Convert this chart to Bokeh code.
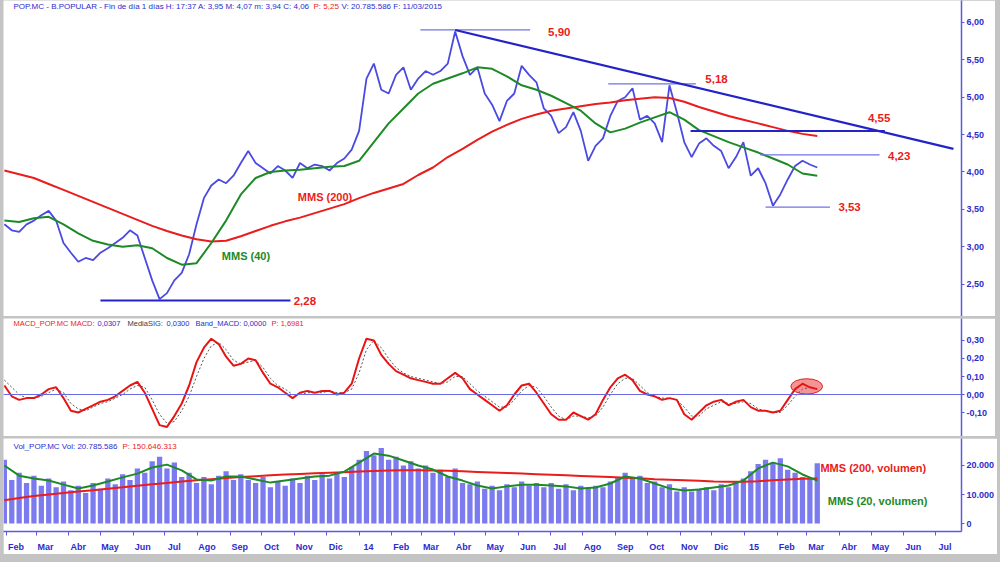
import pandas as pd
from bokeh.plotting import figure
from bokeh.layouts import column
from bokeh.models import Range1d, FixedTicker, Label, DatetimeAxis, Span, Div
from bokeh.core.properties import value
from bokeh.embed import file_html
from bokeh.resources import INLINE

# ---------------- data ----------------
weeks = pd.date_range("2013-01-30", "2015-03-11", freq="7D")        # 111 weekly samples
fortnights = pd.date_range("2013-01-30", "2015-03-11", freq="14D")  # 56 samples

price_close = [
    3.30, 3.22, 3.20, 3.30, 3.35, 3.42, 3.48, 3.35, 3.05, 2.92,
    2.80, 2.85, 2.82, 2.92, 2.98, 3.05, 3.12, 3.22, 3.15, 2.85,
    2.55, 2.30, 2.38, 2.55, 2.65, 2.90, 3.30, 3.65, 3.82, 3.90,
    3.85, 3.95, 4.12, 4.28, 4.12, 4.05, 3.98, 4.08, 4.02, 3.92,
    4.12, 4.05, 4.10, 4.08, 4.02, 4.12, 4.18, 4.30, 4.55, 5.25,
    5.45, 5.10, 5.05, 5.30, 5.40, 5.10, 5.25, 5.35, 5.30, 5.35,
    5.45, 5.88, 5.55, 5.30, 5.40, 5.05, 4.90, 4.68, 4.95, 5.05,
    5.42, 5.30, 5.20, 4.85, 4.75, 4.52, 4.60, 4.80, 4.55, 4.15,
    4.35, 4.45, 4.75, 4.95, 5.00, 5.12, 4.70, 4.75, 4.65, 4.40,
    5.16, 4.80, 4.40, 4.20, 4.38, 4.45, 4.35, 4.28, 4.05, 4.20,
    4.40, 3.95, 4.05, 3.85, 3.55, 3.70, 3.90, 4.08, 4.15, 4.10, 4.06]

mms40 = [
    3.35, 3.33, 3.38, 3.40, 3.30, 3.18, 3.08, 3.03, 3.00, 3.02,
    2.98, 2.85, 2.76, 2.78, 3.05, 3.35, 3.70, 3.92, 4.00, 4.02,
    4.03, 4.05, 4.07, 4.08, 4.15, 4.40, 4.65, 4.85, 5.05, 5.18,
    5.25, 5.32, 5.40, 5.38, 5.28, 5.16, 5.10, 5.02, 4.92, 4.82,
    4.65, 4.53, 4.58, 4.66, 4.73, 4.80, 4.70, 4.56, 4.48, 4.40,
    4.33, 4.26, 4.18, 4.10, 3.98, 3.95]

mms200 = [
    4.02, 3.97, 3.92, 3.84, 3.76, 3.68, 3.60, 3.52, 3.44, 3.36,
    3.28, 3.21, 3.15, 3.10, 3.07, 3.08, 3.14, 3.21, 3.28, 3.34,
    3.39, 3.45, 3.51, 3.57, 3.65, 3.72, 3.78, 3.84, 3.96, 4.06,
    4.20, 4.31, 4.43, 4.54, 4.63, 4.71, 4.77, 4.82, 4.85, 4.88,
    4.91, 4.93, 4.96, 4.98, 5.00, 4.99, 4.94, 4.87, 4.81, 4.75,
    4.70, 4.65, 4.60, 4.55, 4.51, 4.48]

macd = [
    0.05, -0.01, -0.03, -0.02, -0.02, 0.00, 0.03, 0.04, -0.02, -0.09,
    -0.10, -0.08, -0.06, -0.04, -0.03, -0.01, 0.02, 0.05, 0.07, 0.01,
    -0.08, -0.17, -0.18, -0.12, -0.05, 0.05, 0.18, 0.26, 0.31, 0.28,
    0.21, 0.16, 0.17, 0.20, 0.19, 0.12, 0.06, 0.04, 0.01, -0.02,
    0.01, 0.02, 0.01, 0.02, 0.02, 0.00, 0.01, 0.06, 0.20, 0.31,
    0.30, 0.22, 0.17, 0.13, 0.11, 0.09, 0.08, 0.07, 0.06, 0.06,
    0.09, 0.12, 0.09, 0.03, 0.00, -0.03, -0.06, -0.09, -0.06, 0.00,
    0.05, 0.06, 0.01, -0.05, -0.11, -0.14, -0.14, -0.10, -0.12, -0.14,
    -0.11, -0.03, 0.04, 0.09, 0.11, 0.08, 0.02, 0.00, -0.01, -0.03,
    -0.02, -0.03, -0.11, -0.14, -0.10, -0.06, -0.04, -0.03, -0.06, -0.04,
    -0.03, -0.07, -0.09, -0.09, -0.10, -0.09, -0.03, 0.03, 0.06, 0.04, 0.03]

macd_signal = [
    0.08, 0.04, 0.00, -0.02, -0.02, -0.01, 0.01, 0.03, 0.01, -0.05,
    -0.08, -0.09, -0.07, -0.05, -0.04, -0.02, 0.00, 0.03, 0.05, 0.04,
    -0.03, -0.11, -0.16, -0.15, -0.09, -0.01, 0.10, 0.20, 0.27, 0.29,
    0.25, 0.19, 0.17, 0.18, 0.19, 0.15, 0.09, 0.05, 0.03, 0.00,
    0.00, 0.01, 0.01, 0.01, 0.02, 0.01, 0.01, 0.03, 0.12, 0.25,
    0.30, 0.26, 0.20, 0.15, 0.12, 0.10, 0.09, 0.08, 0.07, 0.06,
    0.07, 0.10, 0.10, 0.06, 0.02, -0.01, -0.04, -0.07, -0.07, -0.03,
    0.02, 0.05, 0.04, -0.01, -0.07, -0.12, -0.14, -0.12, -0.12, -0.13,
    -0.12, -0.07, 0.00, 0.06, 0.09, 0.09, 0.05, 0.01, -0.01, -0.02,
    -0.02, -0.03, -0.07, -0.12, -0.12, -0.08, -0.06, -0.04, -0.05, -0.05,
    -0.04, -0.05, -0.08, -0.09, -0.10, -0.10, -0.06, -0.01, 0.03, 0.04, 0.03]

volume = [  # thousands of shares
    22000, 15000, 17500, 14000, 16500, 13000, 15500, 12500, 14500, 11500,
    13000, 10500, 14000, 12000, 15500, 13500, 17000, 15000, 19000, 17500,
    21500, 23000, 19000, 21000, 16000, 17500, 14000, 16000, 13500, 16500,
    18000, 15000, 17000, 15000, 14000, 16000, 12500, 14500, 13000, 15500,
    14000, 16500, 15000, 17000, 15500, 17500, 16000, 19500, 22000, 25000,
    23500, 26000, 22000, 23000, 20000, 21500, 19000, 20000, 17500, 18500,
    16000, 19000, 14000, 13500, 14500, 12000, 13000, 11500, 13500, 12500,
    14500, 13000, 14000, 12500, 14000, 12000, 13500, 11500, 13000, 12000,
    13000, 12500, 14500, 16000, 17500, 15500, 16500, 14000, 14500, 12500,
    13500, 11000, 12500, 11000, 12000, 12500, 11500, 13500, 12500, 14500,
    15500, 18000, 20500, 22000, 21000, 22500, 18500, 17500, 16000, 15500, 20786]

vol_mms20 = [
    20000, 16500, 15500, 14800, 13400, 12100, 13100, 14500, 15900, 17200,
    19300, 20300, 18300, 15200, 14800, 16200, 16200, 15200, 14100, 14800,
    15500, 16200, 16500, 17900, 21000, 24100, 23400, 21700, 20000, 18600,
    16200, 14800, 13100, 12100, 12800, 13400, 13400, 13100, 12800, 12100,
    12400, 13800, 16200, 15500, 13800, 12100, 11400, 11700, 12400, 13100,
    14800, 19000, 21000, 19700, 16900, 14800]

vol_mms200 = [
    8000, 8800, 9500, 10000, 10500, 11000, 11500, 12000, 12500, 13000,
    13500, 14000, 14500, 14900, 15300, 15700, 16000, 16300, 16600, 16900,
    17100, 17300, 17500, 17700, 17900, 18100, 18300, 18400, 18400, 18300,
    18200, 18000, 17800, 17600, 17400, 17200, 17000, 16800, 16600, 16400,
    16200, 16000, 15800, 15600, 15300, 15100, 14900, 14700, 14500, 14400,
    14400, 14600, 14900, 15200, 15400, 15500]

month_starts = pd.date_range("2013-02-01", "2015-07-01", freq="MS")
month_labels = ["Feb", "Mar", "Abr", "May", "Jun", "Jul", "Ago", "Sep", "Oct", "Nov", "Dic", "14",
                "Feb", "Mar", "Abr", "May", "Jun", "Jul", "Ago", "Sep", "Oct", "Nov", "Dic", "15",
                "Feb", "Mar", "Abr", "May", "Jun", "Jul"]

price_ticks = [2.0, 2.5, 3.0, 3.5, 4.0, 4.5, 5.0, 5.5, 6.0]
price_tick_labels = ["2,00", "2,50", "3,00", "3,50", "4,00", "4,50", "5,00", "5,50", "6,00"]
macd_ticks = [-0.1, 0.0, 0.1, 0.2, 0.3]
macd_tick_labels = ["-0,10", "0,00", "0,10", "0,20", "0,30"]
vol_ticks = [0, 10000, 20000]
vol_tick_labels = ["0", "10.000", "20.000"]

# support / resistance annotations
thick_level_values = [2.28, 4.55]
thick_level_start = ["2013-05-01", "2014-11-11"]
thick_level_end = ["2013-10-28", "2015-05-14"]
thin_level_values = [5.90, 5.18, 4.23, 3.53]
thin_level_start = ["2014-02-28", "2014-08-25", "2015-01-16", "2015-01-21"]
thin_level_end = ["2014-06-12", "2014-11-16", "2015-05-09", "2015-03-23"]
trend_dates = ["2014-04-02", "2015-07-18"]
trend_values = [5.90, 4.31]
level_label_text = ["2,28", "5,90", "5,18", "4,55", "4,23", "3,53"]
level_label_dates = ["2013-10-31", "2014-06-29", "2014-11-25", "2015-04-28", "2015-05-17", "2015-03-31"]
level_label_values = [2.28, 5.87, 5.24, 4.72, 4.22, 3.53]

# ---------------- styling ----------------
BLUE = "#2c2ccc"
AXBLUE = "#5a5ae0"
RED = "#ea1c1c"
GREEN = "#1d8a27"
GRAY = "#c4c4c4"
FONT = "Liberation Sans"

def ts(s):
    return pd.Timestamp(s)

def ms(t):
    return int(pd.Timestamp(t).value // 10**6)

xr = Range1d(start=ts("2013-01-29 04:00"), end=ts("2015-07-25 15:00"))


def panel(frame_h, y0, y1, ticks, tick_labels, x_axis, top_gap):
    p = figure(frame_width=958, frame_height=frame_h, x_range=xr, y_range=Range1d(y0, y1),
               title=None,
               x_axis_type="datetime", x_axis_location="below" if x_axis else None,
               y_axis_location="right", output_backend="svg", toolbar_location=None,
               min_border_left=0, min_border_right=34, min_border_top=0, min_border_bottom=0,
               background_fill_color="white", border_fill_color="white", outline_line_color=None)
    p.xgrid.visible = False
    p.ygrid.visible = False
    ya = p.yaxis[0]
    ya.ticker = FixedTicker(ticks=ticks)
    ya.major_label_overrides = dict(zip(ticks, tick_labels))
    ya.axis_line_color = AXBLUE
    ya.axis_line_width = 1.5
    ya.major_tick_line_color = AXBLUE
    ya.major_tick_out = 3
    ya.major_tick_in = 0
    ya.minor_tick_line_color = None
    ya.major_label_standoff = 2
    ya.major_label_text_font = FONT
    ya.major_label_text_font_size = "9px"
    ya.major_label_text_font_style = "bold"
    ya.major_label_text_color = BLUE
    p.margin = (top_gap, 5, 0, 3)
    return p


def header(p, frame_h, parts, dy, size):
    for x, txt, col in parts:
        p.add_layout(Label(x=x, y=frame_h - dy, x_units="screen", y_units="screen", text=txt,
                           text_font=FONT, text_font_size=size, text_color=col,
                           text_baseline="middle"))


# ---------------- price panel ----------------
p1 = panel(316, 2.067, 6.294, price_ticks, price_tick_labels, False, 0)
header(p1, 316, [(10, "POP.MC - B.POPULAR - Fin de día 1 días H: 17:37 A: 3,95 M: 4,07 m: 3,94 C: 4,06", BLUE),
                 (310, "P: 5,25", RED),
                 (338, "V: 20.785.586 F: 11/03/2015", BLUE)], 6, "8px")

p1.line(weeks, price_close, color="#4a4ae2", line_width=1.8)
p1.line(fortnights, mms200, color=RED, line_width=2)
p1.line(fortnights, mms40, color=GREEN, line_width=2)
p1.segment(x0=[ts(d) for d in thin_level_start], y0=thin_level_values,
           x1=[ts(d) for d in thin_level_end], y1=thin_level_values, color="#7272e4", line_width=1.2)
p1.segment(x0=[ts(d) for d in thick_level_start], y0=thick_level_values,
           x1=[ts(d) for d in thick_level_end], y1=thick_level_values, color="#2323c8", line_width=2)
p1.line([ts(d) for d in trend_dates], trend_values, color="#2323c8", line_width=2.2)
p1.text([ts(d) for d in level_label_dates], level_label_values, text=level_label_text,
        text_font=value(FONT), text_font_size="11.5px", text_font_style="bold",
        text_color=RED, text_baseline="middle")
p1.text([ts("2013-11-04")], [3.66], text=["MMS (200)"], text_font=value(FONT), text_font_size="11px",
        text_font_style="bold", text_color=RED, text_baseline="middle")
p1.text([ts("2013-08-24")], [2.88], text=["MMS (40)"], text_font=value(FONT), text_font_size="11px",
        text_font_style="bold", text_color=GREEN, text_baseline="middle")

# ---------------- MACD panel ----------------
p2 = panel(118, -0.2333, 0.4222, macd_ticks, macd_tick_labels, False, 2)
header(p2, 118, [(10, "MACD_POP.MC MACD:", RED), (94, "0,0307", BLUE), (124, "MediaSIG:", "#404040"),
                 (163, "0,0300", BLUE), (192, "Band_MACD: 0,0000", BLUE), (268, "P: 1,6981", RED)],
       5, "7.5px")
p2.add_layout(Span(location=0, dimension="width", line_color="#6a6ae6", line_width=1))
p2.ellipse(x=[ts("2015-03-01")], y=[0.045], width=30 * 86400000, height=0.085,
           fill_color="#f28a8a", fill_alpha=0.9, line_color="#e02020", line_width=1)
p2.line(weeks, macd_signal, color="#555555", line_width=1, line_dash="2 2")
p2.line(weeks, macd, color="#e81414", line_width=2)

# ---------------- volume panel ----------------
p3 = panel(93, -2758, 29310, vol_ticks, vol_tick_labels, True, 2)
header(p3, 93, [(10, "Vol_POP.MC Vol: 20.785.586", BLUE), (119, "P: 150.646.313", RED)], 8, "8px")
p3.vbar(x=weeks, top=volume, bottom=0, width=5 * 86400000, color="#7b7bef", line_color=None)
p3.line(fortnights, vol_mms200, color=RED, line_width=2)
p3.line(fortnights, vol_mms20, color=GREEN, line_width=2)
p3.text([ts("2015-03-14")], [19300], text=["MMS (200, volumen)"], text_font=value(FONT),
        text_font_size="11px", text_font_style="bold", text_color=RED, text_baseline="middle")
p3.text([ts("2015-03-21")], [7900], text=["MMS (20, volumen)"], text_font=value(FONT),
        text_font_size="11px", text_font_style="bold", text_color=GREEN, text_baseline="middle")

month_ms = [ms(m) for m in month_starts]
xa = p3.xaxis[0]
xa.ticker = FixedTicker(ticks=month_ms)
xa.major_label_overrides = {m: "" for m in month_ms}
xa.major_label_text_font_size = "0px"
xa.major_label_standoff = 0
xa.axis_line_color = AXBLUE
xa.axis_line_width = 1.5
xa.major_tick_line_color = AXBLUE
xa.major_tick_out = 4
xa.major_tick_in = 0
xa.minor_tick_line_color = None

label_ms = [ms(m + pd.Timedelta(days=9)) for m in month_starts]
xa2 = DatetimeAxis(ticker=FixedTicker(ticks=label_ms),
                   major_label_overrides=dict(zip(label_ms, month_labels)),
                   axis_line_color=None, major_tick_line_color=None, minor_tick_line_color=None,
                   major_label_standoff=0, major_label_text_font=FONT, major_label_text_font_size="9px",
                   major_label_text_font_style="bold", major_label_text_color=BLUE)
p3.add_layout(xa2, "below")

nav = Div(text="", width=1000, height=16, margin=0, styles={"background-color": GRAY})

layout = column(p1, p2, p3, nav, spacing=0, styles={"background-color": GRAY})

open("out.html", "w").write(file_html(layout, INLINE))
